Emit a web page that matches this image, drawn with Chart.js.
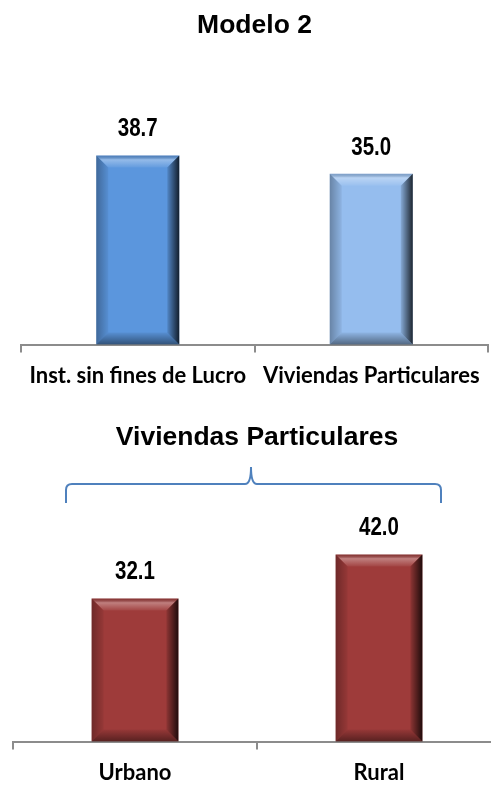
<!DOCTYPE html>
<html>
<head>
<meta charset="utf-8">
<script src="https://cdn.jsdelivr.net/npm/chart.js@4"></script>
<style>
  html, body { margin: 0; padding: 0; background: #fff; overflow: hidden; }
  #top { position: absolute; left: 0; top: 0; width: 491px; height: 400px; }
  #bottom { position: absolute; left: 0; top: 400px; width: 510px; height: 396px; }
</style>
</head>
<body>
<div id="top"><canvas id="chartTop"></canvas></div>
<div id="bottom"><canvas id="chartBottom"></canvas></div>
<script>
// top chart: Modelo 2
const topTitle = 'Modelo 2';
const topLabels = ['Inst. sin fines de Lucro', 'Viviendas Particulares'];
const topValues = [38.7, 35.0];
const topColors = ['#5b96dd', '#95bdee'];

// bottom chart: Viviendas Particulares
const bottomTitle = 'Viviendas Particulares';
const bottomLabels = ['Urbano', 'Rural'];
const bottomValues = [32.1, 42.0];
const bottomColors = ['#9e3b3a', '#9e3b3a'];

const valueFont = 'bold 25px "Liberation Sans", Arial, sans-serif';

// bevel look + value labels on top of bars
const bevelPlugin = {
    id: 'bevel',
    afterDatasetsDraw(chart) {
        const ctx = chart.ctx;
        const meta = chart.getDatasetMeta(0);
        meta.data.forEach((bar, i) => {
            const l = bar.x - bar.width / 2, r = bar.x + bar.width / 2;
            const t = bar.y, b = bar.base;
            const s = 12;
            ctx.save();
            // top face (light)
            let g = ctx.createLinearGradient(0, t, 0, t + s);
            g.addColorStop(0, 'rgba(0,0,0,0.15)');
            g.addColorStop(0.35, 'rgba(255,255,255,0.35)');
            g.addColorStop(1, 'rgba(255,255,255,0.05)');
            ctx.fillStyle = g;
            ctx.beginPath();
            ctx.moveTo(l, t); ctx.lineTo(r, t); ctx.lineTo(r - s, t + s); ctx.lineTo(l + s, t + s);
            ctx.closePath(); ctx.fill();
            // left face
            g = ctx.createLinearGradient(l, 0, l + s, 0);
            g.addColorStop(0, 'rgba(0,0,0,0.3)');
            g.addColorStop(1, 'rgba(0,0,0,0.05)');
            ctx.fillStyle = g;
            ctx.beginPath();
            ctx.moveTo(l, t); ctx.lineTo(l + s, t + s); ctx.lineTo(l + s, b - s); ctx.lineTo(l, b);
            ctx.closePath(); ctx.fill();
            // right face (dark)
            g = ctx.createLinearGradient(r - s, 0, r, 0);
            g.addColorStop(0, 'rgba(0,0,0,0.1)');
            g.addColorStop(1, 'rgba(0,0,0,0.8)');
            ctx.fillStyle = g;
            ctx.beginPath();
            ctx.moveTo(r, t); ctx.lineTo(r, b); ctx.lineTo(r - s, b - s); ctx.lineTo(r - s, t + s);
            ctx.closePath(); ctx.fill();
            // bottom face
            g = ctx.createLinearGradient(0, b - s, 0, b);
            g.addColorStop(0, 'rgba(0,0,0,0.05)');
            g.addColorStop(1, 'rgba(0,0,0,0.45)');
            ctx.fillStyle = g;
            ctx.beginPath();
            ctx.moveTo(l, b); ctx.lineTo(l + s, b - s); ctx.lineTo(r - s, b - s); ctx.lineTo(r, b);
            ctx.closePath(); ctx.fill();
            // value label, squeezed to look like a narrow font
            ctx.fillStyle = '#000';
            ctx.font = valueFont;
            ctx.textAlign = 'center';
            ctx.textBaseline = 'middle';
            ctx.translate(bar.x, t - 26);
            ctx.scale(0.82, 1);
            ctx.fillText(chart.data.datasets[0].data[i].toFixed(1), 0, 0);
            ctx.restore();
        });
    }
};

// curly brace above the bottom chart
const bracePlugin = {
    id: 'brace',
    afterDraw(chart, args, opts) {
        if (!opts.show) return;
        const ctx = chart.ctx;
        const x0 = 66, x1 = 441, xm = 251;
        const yEnd = 103, yLine = 84, yTip = 65;
        ctx.save();
        ctx.strokeStyle = '#4f81bd';
        ctx.lineWidth = 2;
        ctx.beginPath();
        ctx.moveTo(x0, yEnd);
        ctx.lineTo(x0, yLine + 6);
        ctx.quadraticCurveTo(x0, yLine, x0 + 6, yLine);
        ctx.lineTo(xm - 6, yLine);
        ctx.quadraticCurveTo(xm, yLine, xm, yTip + 2);
        ctx.quadraticCurveTo(xm, yLine, xm + 6, yLine);
        ctx.lineTo(x1 - 6, yLine);
        ctx.quadraticCurveTo(x1, yLine, x1, yLine + 6);
        ctx.lineTo(x1, yEnd);
        ctx.stroke();
        ctx.restore();
    }
};

function makeChart(id, title, labels, values, colors, yMax, layout, titlePad, showBrace) {
    return new Chart(document.getElementById(id), {
        type: 'bar',
        data: {
            labels: labels,
            datasets: [{
                data: values,
                backgroundColor: colors,
                barPercentage: 0.9,
                categoryPercentage: 0.395
            }]
        },
        options: {
            responsive: true,
            maintainAspectRatio: false,
            animation: false,
            layout: { padding: layout },
            plugins: {
                legend: { display: false },
                tooltip: { enabled: false },
                title: {
                    display: true,
                    text: title,
                    color: '#000',
                    font: { family: '"Liberation Sans", Arial, sans-serif', size: 26.5, weight: 'bold' },
                    padding: titlePad
                },
                brace: { show: showBrace }
            },
            scales: {
                x: {
                    grid: { offset: true, drawOnChartArea: false, tickLength: 8, color: '#8c8c8c', lineWidth: 2 },
                    border: { color: '#8c8c8c', width: 2 },
                    ticks: {
                        color: '#000',
                        padding: 10,
                        font: { family: 'Lato, "Open Sans", sans-serif', size: 22, weight: 'bold' }
                    }
                },
                y: { display: false, min: 0, max: yMax }
            }
        },
        plugins: [bevelPlugin, bracePlugin]
    });
}

makeChart('chartTop', topTitle, topLabels, topValues, topColors, 45,
    { left: 21, right: 3, top: 0, bottom: 1 }, { top: 10, bottom: 83 }, false);
makeChart('chartBottom', bottomTitle, bottomLabels, bottomValues, bottomColors, 50,
    { left: 13, right: 9, top: 0, bottom: 0 }, { top: 22, bottom: 65 }, true);
</script>
</body>
</html>
